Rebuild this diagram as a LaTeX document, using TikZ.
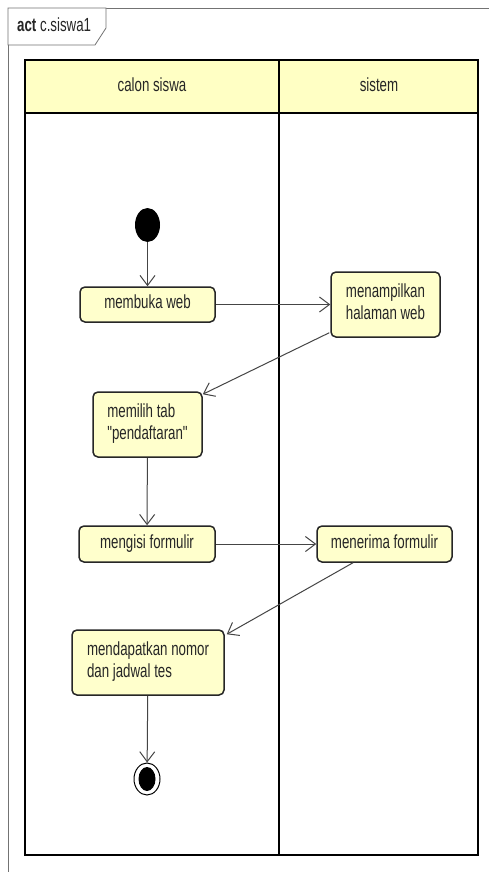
\documentclass[tikz,border=0pt]{standalone}
\usepackage{fontspec}
\setmainfont{Liberation Sans}[Ligatures=TeXOff]
\usetikzlibrary{arrows.meta,shapes.geometric}
\definecolor{nodefill}{HTML}{FFFFCC}
\definecolor{hdrfill}{HTML}{FFFFC4}
\definecolor{edgecol}{HTML}{454545}
\newcommand\sqz[1]{\scalebox{0.7}[1]{\begin{tabular}{@{}l@{}}#1\end{tabular}}}
\begin{document}
\begin{tikzpicture}[x=1pt,y=-1pt,
  txt/.style={font=\fontsize{19}{22}\selectfont, text=black!85},
  act/.style={txt, draw=black!85, line width=1.5pt, rounded corners=5pt, fill=nodefill, inner sep=0pt},
  lane/.style={draw=black, line width=1.5pt},
  flow/.style={draw=edgecol, line width=1pt, -{Straight Barb[length=10pt,width=15pt,line width=1pt]}}]
\useasboundingbox (0,0) rectangle (489,872);
\fill[white] (0,0) rectangle (489,872);
% frame
\draw[black!55, line width=0.8pt] (8,8) rectangle (500,885);
\draw[black!55, line width=0.8pt, fill=white] (8,8) -- (106,8) -- (106,28) -- (95,45) -- (8,45) -- cycle;
\node[txt, anchor=west, inner sep=0pt] (title) at (17,27) {\sqz{\textbf{act} c.siswa1}};
% swimlanes
\draw[lane, fill=hdrfill] (25,60) rectangle (478,113);
\draw[lane] (25,60) rectangle (478,855);
\draw[lane] (279,60) -- (279,855);
\node[txt] (lane1) at (152,87) {\sqz{calon siswa}};
\node[txt] (lane2) at (379,87) {\sqz{sistem}};
% nodes
\node[ellipse, fill=black, minimum width=25pt, minimum height=34pt, inner sep=0pt] (start) at (147.5,225) {};
\node[act, minimum width=135pt, minimum height=35pt] (membuka) at (147.5,304.5) {\sqz{membuka web}};
\node[act, minimum width=109pt, minimum height=65pt] (menampilkan) at (385.5,304.5) {\sqz{menampilkan\\halaman web}};
\node[act, minimum width=109pt, minimum height=65pt] (memilih) at (147.5,424.5) {\sqz{memilih tab\\"pendaftaran"}};
\node[act, minimum width=136pt, minimum height=36pt] (mengisi) at (147,544) {\sqz{mengisi formulir}};
\node[act, minimum width=135pt, minimum height=36pt] (menerima) at (384.5,544) {\sqz{menerima formulir}};
\node[act, minimum width=152pt, minimum height=65pt] (mendapatkan) at (148,662.5) {\sqz{mendapatkan nomor\\dan jadwal tes}};
\node[ellipse, draw=black, line width=1pt, fill=white, minimum width=26pt, minimum height=32pt, inner sep=0pt] (end) at (147,779) {};
\fill[black] (end.center) ellipse (8.5 and 12);
% flows
\draw[flow] (start) -- (membuka);
\draw[flow] (membuka) -- (menampilkan);
\draw[flow] ([xshift=-1pt,yshift=5pt]menampilkan.south west) -- ([yshift=-3pt]memilih.north east);
\draw[flow] (memilih) -- (mengisi);
\draw[flow] (mengisi) -- (menerima);
\draw[flow] ([xshift=-31.5pt]menerima.south) -- ([xshift=2pt,yshift=-5pt]mendapatkan.north east);
\draw[flow] (mendapatkan) -- (end);
\end{tikzpicture}
\end{document}
